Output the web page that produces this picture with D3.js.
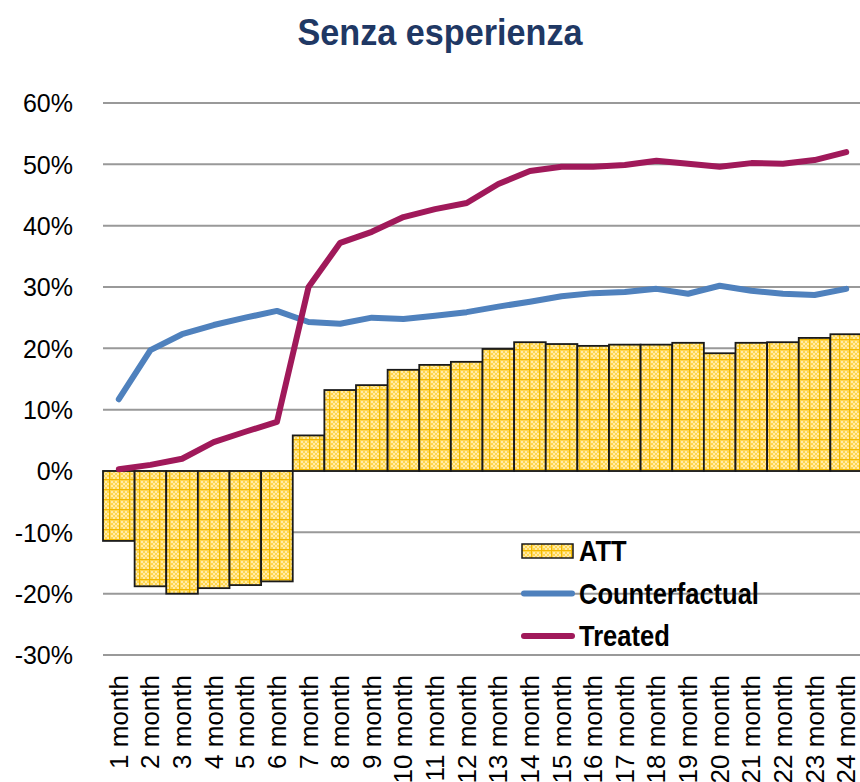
<!DOCTYPE html>
<html>
<head>
<meta charset="utf-8">
<script src="https://cdn.jsdelivr.net/npm/d3@7"></script>
<style>
  body { margin: 0; background: #fff; }
  svg { display: block; }
</style>
</head>
<body>
<div id="chart"></div>
<script>
// data (percent)
var months = d3.range(1, 25).map(function(i) { return i + ' month'; });
var att = [-11.4, -18.8, -20.0, -19.1, -18.6, -18.0, 5.8, 13.2, 14.0, 16.5, 17.3, 17.8,
           19.9, 21.0, 20.7, 20.4, 20.6, 20.6, 20.9, 19.2, 20.9, 21.0, 21.7, 22.3];
var counterfactual = [11.7, 19.7, 22.3, 23.8, 25.0, 26.1, 24.3, 24.0, 25.0, 24.8, 25.3, 25.9,
                      26.8, 27.6, 28.5, 29.0, 29.2, 29.7, 28.9, 30.2, 29.4, 28.9, 28.7, 29.7];
var treated = [0.3, 1.0, 2.0, 4.7, 6.4, 8.0, 30.0, 37.2, 39.0, 41.4, 42.7, 43.7,
               46.8, 48.9, 49.6, 49.6, 49.9, 50.6, 50.1, 49.6, 50.2, 50.1, 50.7, 52.0];
var yTicks = [-30, -20, -10, 0, 10, 20, 30, 40, 50, 60];
var legendItems = ['ATT', 'Counterfactual', 'Treated'];

var width = 860, height = 782;
var margin = {top: 103, right: -2, bottom: 127, left: 103};

var svg = d3.select('#chart').append('svg')
  .attr('width', width)
  .attr('height', height);

// bar fill pattern
var defs = svg.append('defs');
var pat = defs.append('pattern')
  .attr('id', 'att-fill')
  .attr('patternUnits', 'userSpaceOnUse')
  .attr('width', 10).attr('height', 10);
pat.append('rect').attr('width', 10).attr('height', 10).attr('fill', '#FFD64F');
[[1, 1], [3, 3], [5, 1], [7, 3], [1, 5], [3, 7], [5, 5], [7, 7]].forEach(function(p) {
  pat.append('rect').attr('x', p[0]).attr('y', p[1]).attr('width', 2).attr('height', 2).attr('fill', '#FFEBA8');
});
pat.append('rect').attr('x', 0).attr('y', 9).attr('width', 10).attr('height', 1).attr('fill', '#F2B800');
pat.append('rect').attr('x', 9).attr('y', 0).attr('width', 1).attr('height', 10).attr('fill', '#F2B800');

var x = d3.scaleBand()
  .domain(months)
  .range([margin.left, width - margin.right])
  .padding(0);

var y = d3.scaleLinear()
  .domain([-30, 60])
  .range([height - margin.bottom, margin.top]);

// title
svg.append('text')
  .attr('transform', 'translate(440,45) scale(0.95,1)')
  .attr('text-anchor', 'middle')
  .style('font-family', '"Liberation Sans", Arial, sans-serif')
  .style('font-weight', 'bold')
  .style('font-size', '36px')
  .style('fill', '#1F3864')
  .text('Senza esperienza');

// gridlines
svg.append('g')
  .selectAll('line')
  .data(yTicks)
  .enter().append('line')
    .attr('x1', margin.left)
    .attr('x2', width)
    .attr('y1', function(d) { return y(d); })
    .attr('y2', function(d) { return y(d); })
    .style('stroke', '#999')
    .style('stroke-width', 2);

// y axis labels
var yAxis = d3.axisLeft(y)
  .tickValues(yTicks)
  .tickSize(0)
  .tickPadding(0)
  .tickFormat(function(d) { return d + '%'; });

svg.append('g')
  .attr('transform', 'translate(73,0)')
  .call(yAxis)
  .call(function(g) { g.select('.domain').remove(); })
  .selectAll('text')
    .attr('dy', '0.35em')
    .style('font-family', '"Liberation Sans", Arial, sans-serif')
    .style('font-size', '25px')
    .style('fill', '#000');

// bars
svg.append('g')
  .selectAll('rect')
  .data(att)
  .enter().append('rect')
    .attr('x', function(d, i) { return x(months[i]); })
    .attr('width', x.bandwidth())
    .attr('y', function(d) { return y(Math.max(0, d)); })
    .attr('height', function(d) { return Math.abs(y(d) - y(0)); })
    .style('fill', 'url(#att-fill)')
    .style('stroke', '#1a1a1a')
    .style('stroke-width', 1.8);

// lines
var line = d3.line()
  .x(function(d, i) { return x(months[i]) + x.bandwidth() / 2; })
  .y(function(d) { return y(d); });

svg.append('path')
  .datum(counterfactual)
  .attr('d', line)
  .style('fill', 'none')
  .style('stroke', '#4F81BD')
  .style('stroke-width', 6)
  .style('stroke-linecap', 'round')
  .style('stroke-linejoin', 'round');

svg.append('path')
  .datum(treated)
  .attr('d', line)
  .style('fill', 'none')
  .style('stroke', '#A0195A')
  .style('stroke-width', 6)
  .style('stroke-linecap', 'round')
  .style('stroke-linejoin', 'round');

// x labels, rotated
svg.append('g')
  .selectAll('text')
  .data(months)
  .enter().append('text')
    .attr('transform', function(d) {
      return 'translate(' + (x(d) + x.bandwidth() / 2 + 9) + ',675) rotate(-90)';
    })
    .attr('text-anchor', 'end')
    .style('font-family', '"Liberation Sans", Arial, sans-serif')
    .style('font-size', '26px')
    .style('fill', '#000')
    .text(function(d) { return d; });

// legend
var legend = svg.append('g').attr('transform', 'translate(522,551)');
var lg = legend.selectAll('g')
  .data(legendItems)
  .enter().append('g')
    .attr('transform', function(d, i) { return 'translate(0,' + (i * 42.5) + ')'; });

lg.each(function(d, i) {
  var g = d3.select(this);
  if (i === 0) {
    g.append('rect')
      .attr('x', 0).attr('y', -7)
      .attr('width', 51).attr('height', 14)
      .style('fill', 'url(#att-fill)')
      .style('stroke', '#1a1a1a')
      .style('stroke-width', 1.5);
  } else {
    g.append('line')
      .attr('x1', 2).attr('x2', 50)
      .attr('y1', 0).attr('y2', 0)
      .style('stroke', i === 1 ? '#4F81BD' : '#A0195A')
      .style('stroke-width', 6)
      .style('stroke-linecap', 'round');
  }
  g.append('text')
    .attr('transform', 'translate(57,0) scale(0.88,1)')
    .attr('dy', '0.36em')
    .style('font-family', '"Liberation Sans", Arial, sans-serif')
    .style('font-weight', 'bold')
    .style('font-size', '29px')
    .style('fill', '#000')
    .text(d);
});
</script>
</body>
</html>
